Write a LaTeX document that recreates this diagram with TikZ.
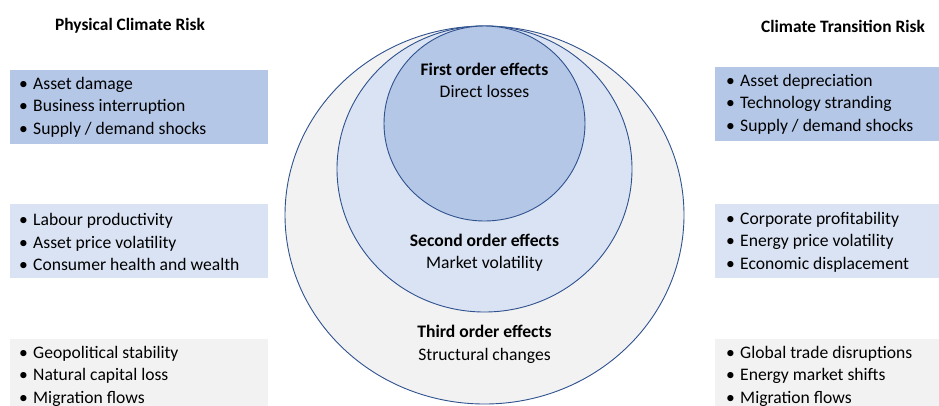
\documentclass[tikz,border=0pt]{standalone}
\usepackage{fontspec}
\setmainfont{Carlito}
\usetikzlibrary{shapes.geometric}
\definecolor{bluedark}{HTML}{B4C7E7}
\definecolor{bluelight}{HTML}{DAE3F3}
\definecolor{greylight}{HTML}{F2F2F2}
\definecolor{ringline}{HTML}{2F528F}
\newcommand{\itm}[1]{\makebox[14pt][l]{\textbullet}#1}
\begin{document}
\begin{tikzpicture}[x=1pt,y=-1pt,
  every node/.style={font=\fontsize{17.6}{22.5}\selectfont, text=black},
  riskbox/.style={draw=none, rectangle, inner sep=0, outer sep=0, anchor=north west},
  listtext/.style={anchor=west, align=left, inner sep=0},
  ring/.style={ellipse, draw=ringline, line width=0.9pt, inner sep=0, outer sep=0, anchor=north},
  heading/.style={font=\fontsize{17.4}{22.5}\selectfont\bfseries},
  ringtext/.style={align=center, inner sep=0}]
\useasboundingbox (0,0) rectangle (939,405);

% nested effect rings, all touching at the top
\node[ring, fill=greylight, minimum width=399pt, minimum height=378pt] (outer) at (484.5,26) {};
\node[ring, fill=bluelight, minimum width=295pt, minimum height=286pt] (middle) at (484.5,26) {};
\node[ring, fill=bluedark, minimum width=201pt, minimum height=195pt] (inner) at (484.5,26) {};

\node[ringtext] (first) at (484.5,80.5) {\textbf{First order effects}\\Direct losses};
\node[ringtext] (second) at (484.5,252.5) {\textbf{Second order effects}\\Market volatility};
\node[ringtext] (third) at (484.5,344.5) {\textbf{Third order effects}\\Structural changes};

% column headings
\node[heading] (phys) at (130,26) {Physical Climate Risk};
\node[heading] (trans) at (843,26) {Climate Transition Risk};

% physical risk boxes
\node[riskbox, fill=bluedark, minimum width=258pt, minimum height=74pt] (pa) at (10,70) {};
\node[riskbox, fill=bluelight, minimum width=258pt, minimum height=74pt] (pb) at (10,204) {};
\node[riskbox, fill=greylight, minimum width=258pt, minimum height=70pt] (pc) at (10,339) {};

\node[listtext] (pat) at (19,107) {\itm{Asset damage}\\\itm{Business interruption}\\\itm{Supply / demand shocks}};
\node[listtext] (pbt) at (19,242) {\itm{Labour productivity}\\\itm{Asset price volatility}\\\itm{Consumer health and wealth}};
\node[listtext] (pct) at (19,376) {\itm{Geopolitical stability}\\\itm{Natural capital loss}\\\itm{Migration flows}};

% transition risk boxes
\node[riskbox, fill=bluedark, minimum width=226pt, minimum height=74pt] (ta) at (715,67) {};
\node[riskbox, fill=bluelight, minimum width=226pt, minimum height=74pt] (tb) at (715,204) {};
\node[riskbox, fill=greylight, minimum width=226pt, minimum height=70pt] (tc) at (715,339) {};

\node[listtext] (tat) at (726,104) {\itm{Asset depreciation}\\\itm{Technology stranding}\\\itm{Supply / demand shocks}};
\node[listtext] (tbt) at (726,242) {\itm{Corporate profitability}\\\itm{Energy price volatility}\\\itm{Economic displacement}};
\node[listtext] (tct) at (726,376) {\itm{Global trade disruptions}\\\itm{Energy market shifts}\\\itm{Migration flows}};
\end{tikzpicture}
\end{document}
